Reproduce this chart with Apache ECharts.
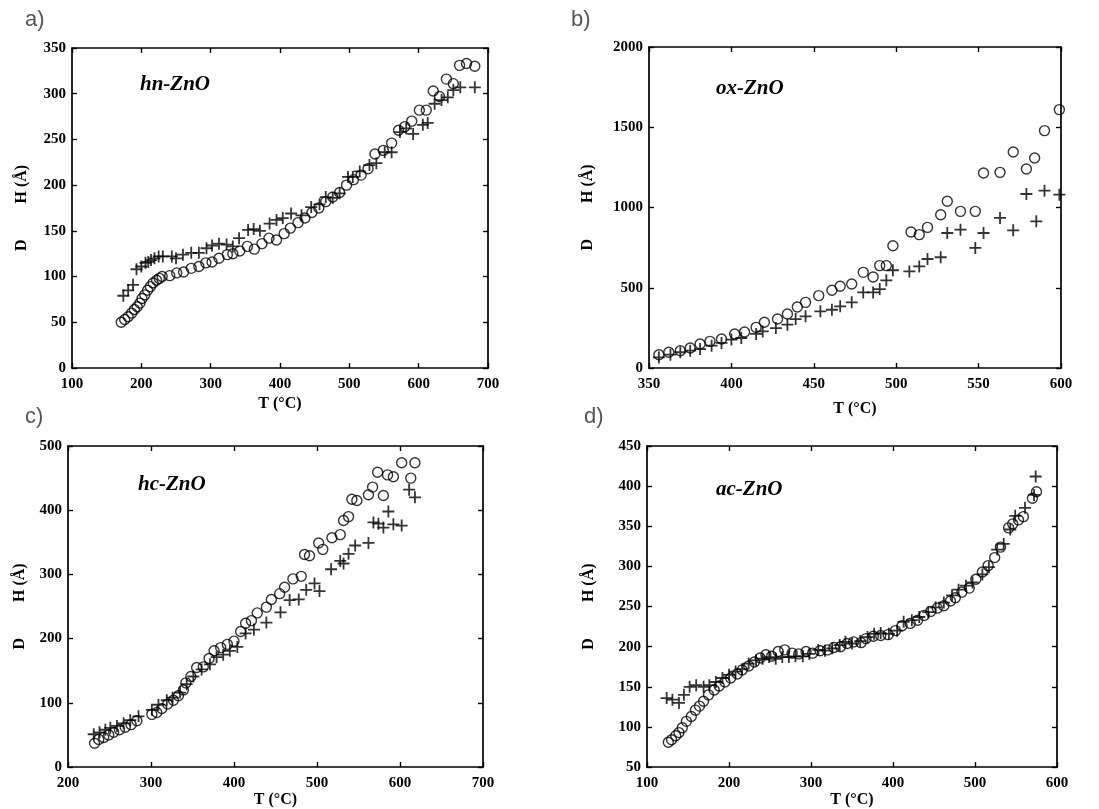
<!DOCTYPE html>
<html>
<head>
<meta charset="utf-8">
<script src="https://cdn.jsdelivr.net/npm/echarts@6/dist/echarts.min.js"></script>
<style>
html,body{margin:0;padding:0;background:#fff;}
#chart{width:1099px;height:809px;}
</style>
</head>
<body>
<div id="chart"></div>
<script>
// ---------- DATA ----------
// a) hn-ZnO
const hnCircleT = [171,176,181,186,190,194,198,201,205,209,213,217,222,226,230,241,251,261,272,283,293,302,312,324,332,342,353,363,374,384,395,406,415,426,436,446,456,466,476,486,496,506,517,527,537,549,561,571,580,590,601,611,621,630,640,650,659,669,681];
const hnCircleD = [50,53,56,60,64,67,71,76,80,85,89,93,96,98,100,101,104,105,109,111,115,116,120,124,125,128,133,130,136,142,140,147,153,159,164,170,175,182,187,192,200,206,211,218,234,238,246,260,264,270,282,282,303,297,316,311,331,333,330];
const hnPlusT = [174,181,188,193,200,206,210,214,219,225,231,244,250,260,272,283,294,302,312,323,332,341,354,362,371,385,395,404,416,431,445,457,466,476,486,498,505,515,529,539,551,561,573,582,592,606,613,623,633,642,650,660,681];
const hnPlusD = [79,85,91,108,111,115,116,118,120,122,122,122,120,124,126,126,131,134,136,135,133,142,151,152,150,158,162,164,169,167,176,179,187,186,191,209,209,215,222,224,236,236,258,262,256,266,268,289,293,296,304,307,307];

// b) ox-ZnO
const oxCircleT = [356,362,369,375,381,387,394,402,408,415,420,428,434,440,445,453,461,466,473,480,486,490,494,498,509,514,519,527,531,539,548,553,563,571,579,584,590,599];
const oxCircleD = [83,98,108,125,150,166,181,212,224,253,285,305,336,380,409,451,484,509,523,596,567,638,638,762,847,831,876,955,1039,976,976,1215,1219,1346,1240,1308,1479,1610];
const oxPlusT = [356,363,369,375,381,388,394,400,406,415,419,427,434,439,445,454,461,466,473,480,486,490,494,498,508,514,519,527,531,539,548,553,563,571,579,585,590,599];
const oxPlusD = [66,83,98,108,118,139,156,177,187,212,228,249,270,305,322,353,363,384,409,471,471,492,546,609,602,633,679,690,841,862,748,841,935,858,1084,914,1105,1080];

// c) hc-ZnO
const hcCircleT = [232,237,243,249,255,262,269,276,283,301,307,313,320,327,333,339,342,348,355,363,370,376,384,392,400,408,414,421,428,439,445,455,461,471,481,485,491,502,507,518,528,532,538,542,548,562,567,573,580,585,592,602,613,618];
const hcCircleD = [37,43,46,50,54,58,62,66,72,82,85,91,98,104,111,120,131,141,155,156,169,181,186,191,196,211,224,228,240,249,261,270,280,293,297,331,329,349,339,357,362,384,390,417,415,424,436,459,423,455,452,474,450,474];
const hcPlusT = [231,238,245,251,259,267,275,285,301,309,319,326,335,343,351,361,371,379,387,395,404,414,424,439,456,467,478,487,497,503,517,528,532,538,546,562,568,574,580,586,592,602,611,618];
const hcPlusD = [51,54,58,61,64,68,73,79,89,97,104,108,116,129,141,152,160,171,175,181,187,208,214,225,241,260,261,276,286,274,308,321,317,332,345,349,381,379,373,398,378,376,432,420];

// d) ac-ZnO
const acCircleT = [126,130,135,139,143,148,154,159,164,169,175,182,188,195,202,210,216,224,231,238,245,252,260,268,277,285,294,302,311,320,328,336,344,352,361,367,376,385,394,403,411,421,430,438,446,454,462,470,476,484,493,501,509,516,524,531,541,546,553,559,570,575];
const acCircleD = [81,84,89,93,99,107,113,121,126,132,140,146,151,156,161,166,171,176,181,186,190,188,194,196,192,191,194,192,195,196,199,200,204,206,205,210,213,214,215,220,226,229,233,239,244,248,251,257,261,268,273,284,293,301,311,324,348,353,358,362,385,393];
const acPlusT = [124,131,139,145,152,160,169,176,184,192,200,208,216,224,233,241,249,257,265,273,281,290,298,309,317,326,335,342,350,360,369,377,385,395,405,413,423,432,443,452,462,472,480,489,497,509,517,527,535,543,549,561,572,574];
const acPlusD = [136,134,130,140,150,152,150,152,156,161,165,169,172,179,183,185,187,185,187,187,188,188,191,196,195,198,202,206,204,207,212,216,217,216,220,231,233,237,243,249,255,264,271,276,280,290,299,321,328,346,363,373,389,412];

const panelNames = ['hn-ZnO','ox-ZnO','hc-ZnO','ac-ZnO'];
const panelLetters = ['a)','b)','c)','d)'];
const xTitle = 'T (°C)';
const yTitle = 'D         H (Å)';

// ---------- LAYOUT ----------
const SERIF = '"Liberation Serif","DejaVu Serif",serif';
const panels = [
  {grid:{left:72, top:48, width:416, height:320}, x:[100,700,100], y:[0,350,50], yGap:42, xGap:28,
   circT:hnCircleT, circD:hnCircleD, plusT:hnPlusT, plusD:hnPlusD},
  {grid:{left:649, top:47, width:412, height:321}, x:[350,600,50], y:[0,2000,500], yGap:53, xGap:33,
   circT:oxCircleT, circD:oxCircleD, plusT:oxPlusT, plusD:oxPlusD},
  {grid:{left:68, top:446, width:415, height:321}, x:[200,700,100], y:[0,500,100], yGap:40, xGap:25,
   circT:hcCircleT, circD:hcCircleD, plusT:hcPlusT, plusD:hcPlusD},
  {grid:{left:647, top:446, width:410, height:322}, x:[100,600,100], y:[50,450,50], yGap:50, xGap:24,
   circT:acCircleT, circD:acCircleD, plusT:acPlusT, plusD:acPlusD}
];
const labelPos = [[25,9,140,86],[571,9,716,90],[25,406,138,486],[584,406,716,491]];

const zip = (a,b) => a.map((v,i)=>[v,b[i]]);
const lineStyle = {color:'#000', width:1.7};
const tickStyle = {color:'#000', width:1.4};
const PLUS = 'path://M4.25,0H5.75V4.25H10V5.75H5.75V10H4.25V5.75H0V4.25H4.25Z';
const plain = v => String(v);

const grids=[], xAxes=[], yAxes=[], series=[], graphics=[];
panels.forEach((p,i)=>{
  grids.push(Object.assign({containLabel:false}, p.grid));
  const xb = {gridIndex:i, type:'value', min:p.x[0], max:p.x[1], interval:p.x[2],
    axisLine:{show:true, onZero:false, lineStyle}, axisTick:{show:true, inside:true, length:5, lineStyle:tickStyle},
    axisLabel:{show:true, formatter:plain, fontFamily:SERIF, fontWeight:'bold', fontSize:15, color:'#000', margin:9},
    splitLine:{show:false}, name:xTitle, nameLocation:'middle', nameGap:p.xGap,
    nameTextStyle:{fontFamily:SERIF, fontWeight:'bold', fontSize:16, color:'#000'}};
  const xt = {gridIndex:i, type:'value', position:'top', min:p.x[0], max:p.x[1], interval:p.x[2],
    axisLine:{show:true, onZero:false, lineStyle}, axisTick:{show:true, inside:true, length:5, lineStyle:tickStyle},
    axisLabel:{show:false}, splitLine:{show:false}};
  const yl = {gridIndex:i, type:'value', min:p.y[0], max:p.y[1], interval:p.y[2],
    axisLine:{show:true, onZero:false, lineStyle}, axisTick:{show:true, inside:true, length:5, lineStyle:tickStyle},
    axisLabel:{show:true, formatter:plain, fontFamily:SERIF, fontWeight:'bold', fontSize:15, color:'#000', margin:6},
    splitLine:{show:false}, name:yTitle, nameLocation:'middle', nameGap:p.yGap, nameRotate:90,
    nameTextStyle:{fontFamily:SERIF, fontWeight:'bold', fontSize:16, color:'#000'}};
  const yr = {gridIndex:i, type:'value', position:'right', min:p.y[0], max:p.y[1], interval:p.y[2],
    axisLine:{show:true, onZero:false, lineStyle}, axisTick:{show:true, inside:true, length:5, lineStyle:tickStyle},
    axisLabel:{show:false}, splitLine:{show:false}};
  const xi = xAxes.length; xAxes.push(xb, xt);
  const yi = yAxes.length; yAxes.push(yl, yr);
  series.push({type:'scatter', xAxisIndex:xi, yAxisIndex:yi, data:zip(p.circT,p.circD),
    symbol:'circle', symbolSize:10, silent:true,
    itemStyle:{color:'rgba(255,255,255,0)', borderColor:'#000', borderWidth:1.4}});
  series.push({type:'scatter', xAxisIndex:xi, yAxisIndex:yi, data:zip(p.plusT,p.plusD),
    symbol:PLUS, symbolSize:12, silent:true, itemStyle:{color:'#000'}});
  const lp = labelPos[i];
  graphics.push({type:'text', left:lp[0], top:lp[1], style:{text:panelLetters[i], fill:'#555',
    font:'22px "Liberation Sans","Open Sans",sans-serif'}});
  graphics.push({type:'text', left:lp[2], top:lp[3]-12, style:{text:panelNames[i], fill:'#000',
    font:'italic bold 21px "Liberation Serif",serif'}});
});

const chart = echarts.init(document.getElementById('chart'));
chart.setOption({
  animation:false,
  backgroundColor:'#fff',
  grid:grids, xAxis:xAxes, yAxis:yAxes, series:series, graphic:graphics
});
</script>
</body>
</html>
